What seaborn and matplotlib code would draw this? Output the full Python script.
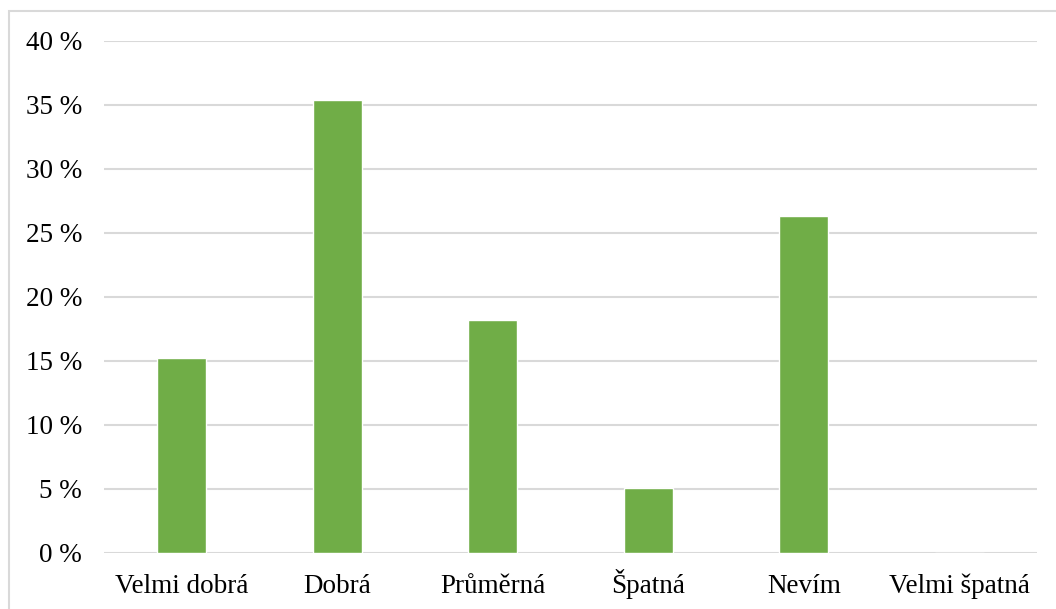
import matplotlib
matplotlib.use("Agg")
import matplotlib.pyplot as plt
from matplotlib.patches import Rectangle
from matplotlib.ticker import FuncFormatter, MultipleLocator
import seaborn as sns
import pandas as pd


categories = ["Velmi dobrá", "Dobrá", "Průměrná", "Špatná", "Nevím", "Velmi špatná"]
values = [15.2, 35.4, 18.2, 5.1, 26.3, 0.0]


def main():
    df = pd.DataFrame({"odpoved": categories, "podil": values})

    sns.set_style("white")
    plt.rcParams["font.family"] = ["Liberation Serif", "DejaVu Serif"]

    fig = plt.figure(figsize=(10.56, 6.09), dpi=100)
    ax = fig.add_axes([104 / 1056, 1 - 553 / 609, (1037 - 104) / 1056, (553 - 41) / 609])

    sns.barplot(data=df, x="odpoved", y="podil", color="#70AD47",
                saturation=1, width=0.315, ax=ax, zorder=3)

    ax.set_ylim(0, 40)
    ax.set_xlim(-0.5, len(categories) - 0.5)
    ax.yaxis.set_major_locator(MultipleLocator(5))
    ax.yaxis.set_major_formatter(FuncFormatter(lambda v, p: f"{v:.0f} %"))
    ax.grid(axis="y", color="#D9D9D9", linewidth=1.5, zorder=0)
    ax.set_axisbelow(True)
    for s in ax.spines.values():
        s.set_visible(False)
    ax.tick_params(axis="both", length=0, labelsize=19.5, colors="black")
    ax.tick_params(axis="y", pad=15.8)
    ax.tick_params(axis="x", pad=28.8)
    for lab in ax.get_xticklabels():
        lab.set_verticalalignment("baseline")
    ax.set_xlabel("")
    ax.set_ylabel("")

    # outer chart frame
    fig.patches.append(Rectangle((9 / 1056, -0.1), 1.2, 1 - 11 / 609 + 0.1,
                                 transform=fig.transFigure, fill=False,
                                 edgecolor="#D9D9D9", linewidth=1.5))

    fig.savefig("out.png", dpi=100)
    plt.close()


if __name__ == "__main__":
    main()
